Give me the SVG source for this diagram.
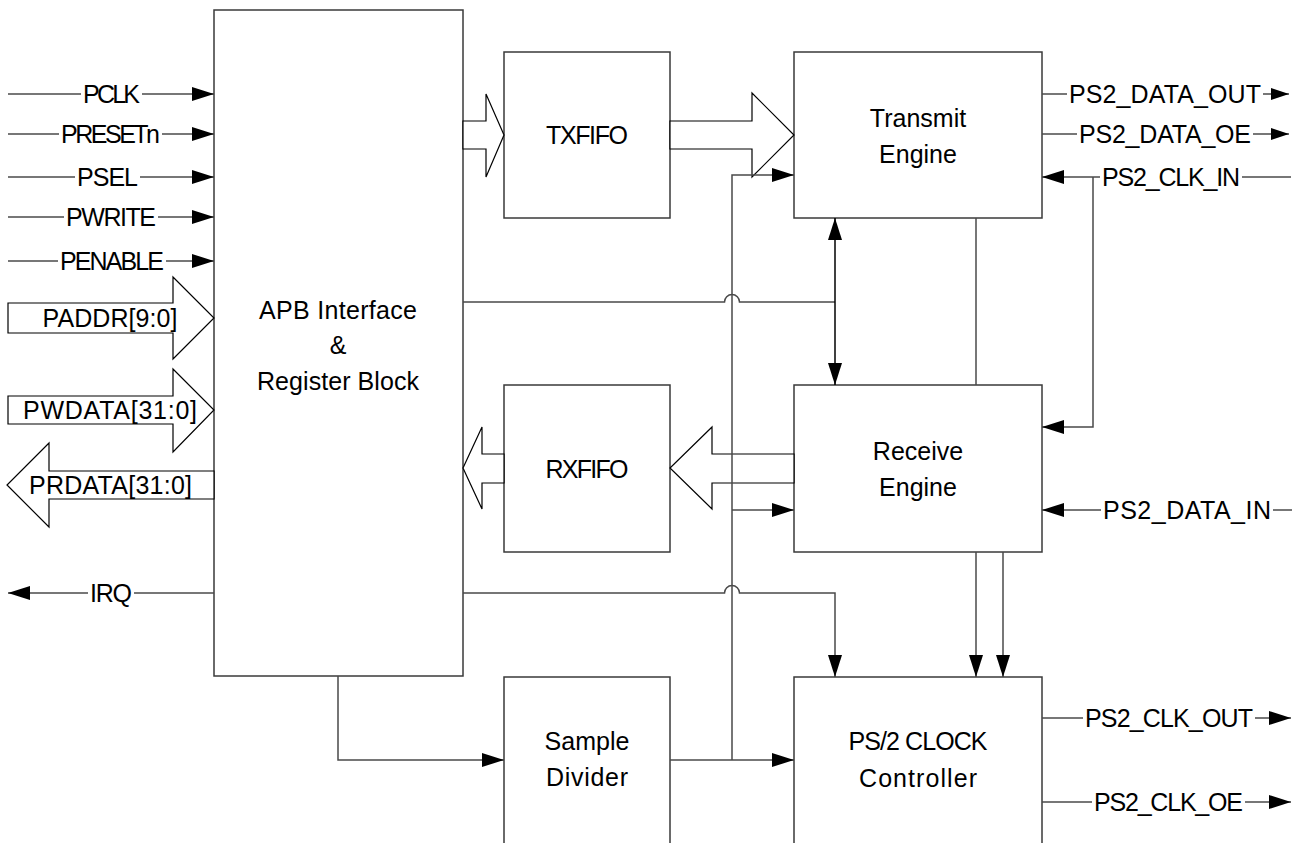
<svg xmlns="http://www.w3.org/2000/svg" width="1302" height="843" viewBox="0 0 1302 843">
<style>
.box{fill:#fff;stroke:#3a3a3a;stroke-width:1.5}
.ln{fill:none;stroke:#4a4a4a;stroke-width:1.5}
.lnd{fill:none;stroke:#000;stroke-width:1.5}
.bus{fill:#fff;stroke:#000;stroke-width:1.2}
.t{font-family:"Liberation Sans",Arial,sans-serif;font-size:25px;fill:#000;text-anchor:middle}
.bt{font-family:"Liberation Sans",Arial,sans-serif;font-size:25px;fill:#000;text-anchor:middle}
</style>
<defs>
<marker id="ah" viewBox="0 0 22 14" refX="22" refY="7" markerWidth="22" markerHeight="14" markerUnits="userSpaceOnUse" orient="auto-start-reverse"><path d="M0,0 L22,7 L0,14 Z" fill="#000"/></marker>
<marker id="ahs" viewBox="0 0 18 12" refX="18" refY="6" markerWidth="18" markerHeight="12" markerUnits="userSpaceOnUse" orient="auto"><path d="M0,0 L18,6 L0,12 Z" fill="#000"/></marker>
</defs>
<rect width="1302" height="843" fill="#fff"/>

<g id="apb"><rect class="box" x="214" y="10" width="249" height="666"/>
<text class="bt" x="338" y="319" textLength="158">APB Interface</text>
<text class="bt" x="338" y="354">&amp;</text>
<text class="bt" x="338" y="390" textLength="162">Register Block</text></g>
<g id="txfifo"><rect class="box" x="504" y="52" width="166" height="166"/>
<text class="bt" x="587" y="144" textLength="82">TXFIFO</text></g>
<g id="rxfifo"><rect class="box" x="504" y="385" width="166" height="167"/>
<text class="bt" x="587" y="478" textLength="83">RXFIFO</text></g>
<g id="sample-divider"><rect class="box" x="504" y="677" width="166" height="200"/>
<text class="bt" x="587" y="750" textLength="85">Sample</text>
<text class="bt" x="587" y="786" textLength="82">Divider</text></g>
<g id="transmit-engine"><rect class="box" x="794" y="52" width="248" height="166"/>
<text class="bt" x="918" y="127">Transmit</text>
<text class="bt" x="918" y="163">Engine</text></g>
<g id="receive-engine"><rect class="box" x="794" y="385" width="248" height="167"/>
<text class="bt" x="918" y="460">Receive</text>
<text class="bt" x="918" y="496">Engine</text></g>
<g id="ps2-clock-controller"><rect class="box" x="794" y="677" width="248" height="200"/>
<text class="bt" x="918" y="750" textLength="139">PS/2 CLOCK</text>
<text class="bt" x="918" y="787" textLength="118">Controller</text></g>

<g id="connectors">
<polygon class="bus" points="8,303 173,303 173,277 214,318 173,359 173,333 8,333"/>
<polygon class="bus" points="8,396 173,396 173,369 214,410 173,452 173,424 8,424"/>
<polygon class="bus" points="214,471 49,471 49,443 7,485 49,527 49,499 214,499"/>
<polygon class="bus" points="463,121 486,121 486,94 504,135 486,177 486,149 463,149"/>
<polygon class="bus" points="670,121 752,121 752,93 794,135 752,177 752,149 670,149"/>
<polygon class="bus" points="794,454 712,454 712,427 670,468 712,509 712,483 794,483"/>
<polygon class="bus" points="504,454 482,454 482,427 463,468 482,509 482,483 504,483"/>
<text class="t" x="110" y="327" textLength="135">PADDR[9:0]</text>
<text class="t" x="110" y="419" textLength="174">PWDATA[31:0]</text>
<text class="t" x="110.5" y="494" textLength="163">PRDATA[31:0]</text>

<path class="ln" d="M8,94 H81"/><path class="ln" d="M142,94 H214" marker-end="url(#ah)"/>
<text class="t" x="111.5" y="103" textLength="57">PCLK</text>
<path class="ln" d="M8,134 H59"/><path class="ln" d="M162,134 H214" marker-end="url(#ah)"/>
<text class="t" x="110.5" y="143" textLength="99">PRESETn</text>
<path class="ln" d="M8,177 H75"/><path class="ln" d="M140,177 H214" marker-end="url(#ah)"/>
<text class="t" x="107.5" y="186" textLength="61">PSEL</text>
<path class="ln" d="M8,217 H64"/><path class="ln" d="M158,217 H214" marker-end="url(#ah)"/>
<text class="t" x="111" y="226" textLength="90">PWRITE</text>
<path class="ln" d="M8,261 H58"/><path class="ln" d="M166,261 H214" marker-end="url(#ah)"/>
<text class="t" x="112" y="270" textLength="104">PENABLE</text>
<path class="ln" d="M214,593 H134"/><path class="ln" d="M88,593 H8" marker-end="url(#ah)"/>
<text class="t" x="111" y="602" textLength="42">IRQ</text>

<path class="ln" d="M338,676 V760 H504" marker-end="url(#ah)"/>
<path class="ln" d="M670,760 H794" marker-end="url(#ah)"/>
<path class="ln" d="M732,760 V175 H794" marker-end="url(#ah)"/>
<path class="ln" d="M732,510 H794" marker-end="url(#ah)"/>
<path class="ln" d="M463,302 H724.5 A7.5,7.5 0 0 1 739.5,302 H835"/>
<path class="lnd" d="M835,218 V385" marker-start="url(#ah)" marker-end="url(#ah)"/>
<path class="ln" d="M463,593 H724.5 A7.5,7.5 0 0 1 739.5,593 H835 V677" marker-end="url(#ah)"/>
<path class="ln" d="M976,218 V385"/>
<path class="ln" d="M976,552 V677" marker-end="url(#ah)"/>
<path class="ln" d="M1003,552 V677" marker-end="url(#ah)"/>

<path class="ln" d="M1042,94 H1067"/><path class="ln" d="M1263,94 H1289" marker-end="url(#ahs)"/>
<text class="t" x="1165" y="103" textLength="192">PS2_DATA_OUT</text>
<path class="ln" d="M1042,134 H1077"/><path class="ln" d="M1253,134 H1289" marker-end="url(#ahs)"/>
<text class="t" x="1165" y="143" textLength="172">PS2_DATA_OE</text>
<path class="ln" d="M1291,177 H1242"/><path class="ln" d="M1100,177 H1042" marker-end="url(#ah)"/>
<text class="t" x="1171" y="186" textLength="138">PS2_CLK_IN</text>
<path class="ln" d="M1093,177 V427 H1042" marker-end="url(#ah)"/>
<path class="ln" d="M1292,510 H1273"/><path class="ln" d="M1101,510 H1042" marker-end="url(#ah)"/>
<text class="t" x="1187" y="519" textLength="168">PS2_DATA_IN</text>
<path class="ln" d="M1042,718 H1083"/><path class="ln" d="M1255,718 H1291" marker-end="url(#ah)"/>
<text class="t" x="1169" y="727" textLength="168">PS2_CLK_OUT</text>
<path class="ln" d="M1042,802 H1092"/><path class="ln" d="M1245,802 H1291" marker-end="url(#ah)"/>
<text class="t" x="1168.5" y="811" textLength="149">PS2_CLK_OE</text>
</g>
</svg>
